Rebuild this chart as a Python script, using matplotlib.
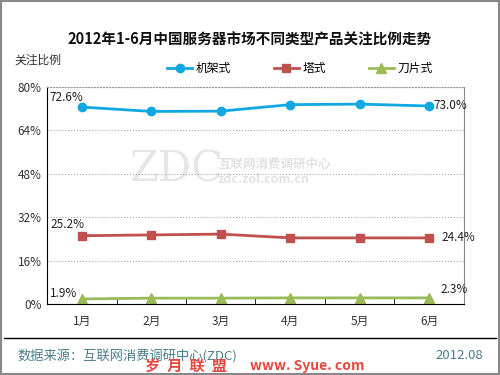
import numpy as np
import matplotlib.pyplot as plt

plt.rcParams['font.family'] = ['Noto Sans CJK SC', 'DejaVu Sans']

# Data
months = ['1月', '2月', '3月', '4月', '5月', '6月']
rack = [72.6, 71.0, 71.1, 73.5, 73.7, 73.0]
tower = [25.2, 25.5, 25.8, 24.4, 24.4, 24.4]
blade = [1.9, 2.2, 2.2, 2.3, 2.3, 2.3]
series_names = ['机架式', '塔式', '刀片式']

blue = '#11a7e0'
red = '#c0504d'
green = '#9bbb59'

fig = plt.figure(figsize=(5, 3.75), dpi=100)
ax = fig.add_axes([0.094, 0.189, 0.834, 0.579])

x = np.arange(len(months))
ax.plot(x, rack, color=blue, lw=2, marker='o', ms=6, label=series_names[0])
ax.plot(x, tower, color=red, lw=2, marker='s', ms=6, label=series_names[1])
ax.plot(x, blade, color=green, lw=2, marker='^', ms=7, label=series_names[2])

ax.set_xlim(-0.5, 5.5)
ax.set_ylim(0, 80)
ax.set_yticks([0, 16, 32, 48, 64, 80])
ax.set_yticklabels(['0%', '16%', '32%', '48%', '64%', '80%'], fontsize=8.5, color='#333333')
ax.set_xticks(x)
ax.set_xticklabels(months, fontsize=8.5, color='#333333')
ax.set_xticks(np.arange(0.5, 5.5, 1), minor=True)
ax.tick_params(axis='x', which='major', length=0, pad=8)
ax.tick_params(axis='x', which='minor', length=4, direction='in', color='black')
ax.tick_params(axis='y', length=0, pad=4)

ax.grid(axis='y', linestyle=':', color='#aaaaaa', lw=0.8)
ax.spines['top'].set_color('#999999')
ax.spines['top'].set_linestyle(':')
ax.spines['right'].set_color('#888888')
ax.spines['left'].set_color('black')
ax.spines['bottom'].set_color('black')

# data labels
lab_kw = dict(fontsize=8.5, color='#222222', textcoords='offset points', va='center')
ax.annotate(f'{rack[0]:.1f}%', (x[0], rack[0]), xytext=(1, 7), ha='right', **lab_kw)
ax.annotate(f'{tower[0]:.1f}%', (x[0], tower[0]), xytext=(2, 8), ha='right', **lab_kw)
ax.annotate(f'{blade[0]:.1f}%', (x[0], blade[0]), xytext=(-3, 4), ha='right', **lab_kw)
ax.annotate(f'{rack[-1]:.1f}%', (x[-1], rack[-1]), xytext=(3, 0), ha='left', **lab_kw)
ax.annotate(f'{tower[-1]:.1f}%', (x[-1], tower[-1]), xytext=(9, 0), ha='left', **lab_kw)
ax.annotate(f'{blade[-1]:.1f}%', (x[-1], blade[-1]), xytext=(8, 6), ha='left', **lab_kw)

# watermark
ax.text(0.31, 0.62, 'ZDC', transform=ax.transAxes, fontsize=30, color='#e6e6e6',
        family='DejaVu Serif', ha='center', va='center', zorder=0)
ax.text(0.41, 0.645, '互联网消费调研中心', transform=ax.transAxes, fontsize=9, color='#e2e2e2',
        ha='left', va='center', zorder=0, weight='bold')
ax.text(0.41, 0.575, 'zdc.zol.com.cn', transform=ax.transAxes, fontsize=9, color='#e2e2e2',
        ha='left', va='center', zorder=0, weight='bold')

fig.legend(*ax.get_legend_handles_labels(), loc='center', bbox_to_anchor=(0.60, 0.818),
           ncol=3, frameon=False, fontsize=8.5, handlelength=2.1, handletextpad=0.35,
           columnspacing=3.6, borderaxespad=0)

fig.text(0.5, 0.895, '2012年1-6月中国服务器市场不同类型产品关注比例走势', ha='center',
         va='center', fontsize=10.5, weight='bold', color='#111111')
fig.text(0.028, 0.84, '关注比例', ha='left', va='center', fontsize=8.5, color='#333333')

# footer
fig.add_artist(plt.Line2D([0.008, 0.992], [0.099, 0.099], color='black', lw=1))
fig.text(0.034, 0.053, '数据来源：互联网消费调研中心(ZDC)', ha='left', va='center',
         fontsize=9.5, color='#4a7d8c')
fig.text(0.966, 0.053, '2012.08', ha='right', va='center', fontsize=9.5, color='#4a7d8c')
fig.text(0.29, 0.025, '岁  月  联  盟', ha='left', va='center', fontsize=11, color='#e8473f', weight='bold')
fig.text(0.5, 0.025, 'www. Syue. com', ha='left', va='center', fontsize=10, color='#e8473f', weight='bold')

# outer border
fig.add_artist(plt.Rectangle((0.002, 0.003), 0.996, 0.994, transform=fig.transFigure,
                             fill=False, edgecolor='#888888', lw=1.5))

fig.savefig('out.png', dpi=100)
